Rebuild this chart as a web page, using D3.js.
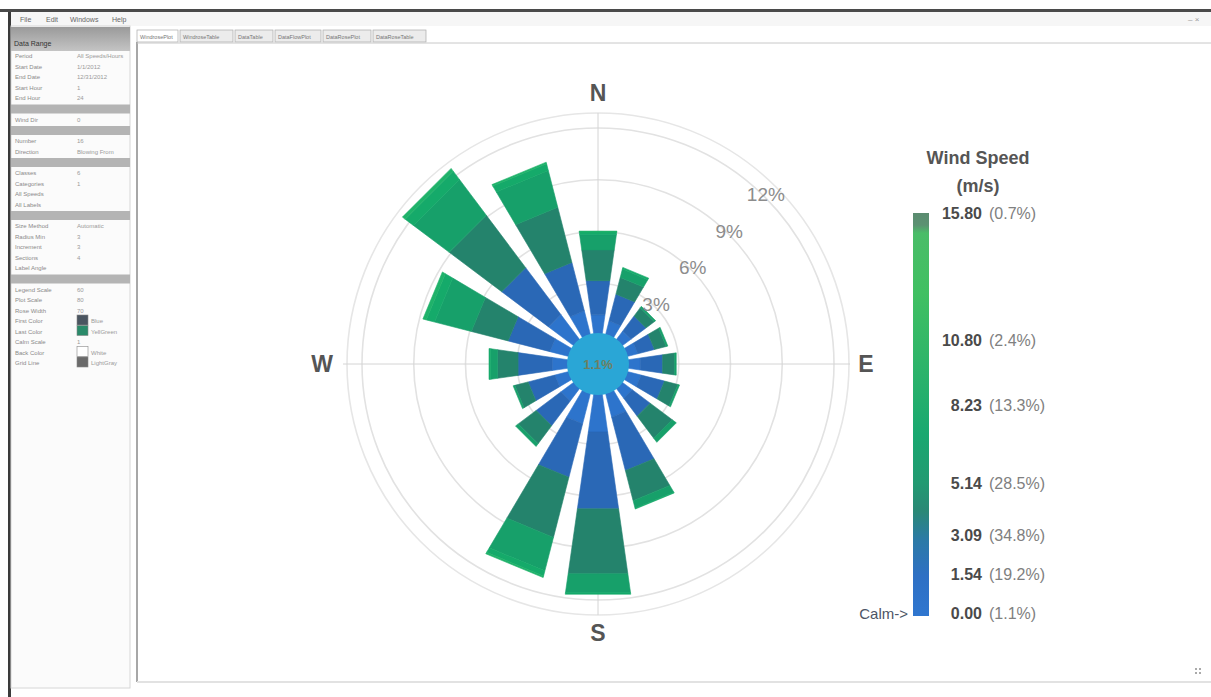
<!DOCTYPE html>
<html>
<head>
<meta charset="utf-8">
<script src="https://cdn.jsdelivr.net/npm/d3@7"></script>
<style>
    body { margin: 0; background: #fff; }
    svg { display: block; font-family: "Liberation Sans", Arial, sans-serif; }
</style>
</head>
<body>
<div id="chart"></div>
<script>
// windrose.js - wind rose (WRPLOT style) drawn with D3

// ---- data ----
const directions = ['N', 'NNE', 'NE', 'ENE', 'E', 'ESE', 'SE', 'SSE', 'S', 'SSW', 'SW', 'WSW', 'W', 'WNW', 'NW', 'NNW'];
const speedKeys = ['c1', 'c2', 'c3', 'c4', 'c5', 'c6'];
// frequency (%) per direction, one array per speed class
const class1 = [1.2, 0.9, 0.7, 0.7, 0.8, 0.9, 0.8, 1.5, 2.3, 1.9, 1.0, 0.9, 1.0, 1.2, 1.9, 1.5];
const class2 = [2.0, 1.6, 1.1, 1.0, 1.3, 1.4, 1.3, 3.2, 4.5, 3.2, 1.8, 1.6, 2.0, 2.5, 3.4, 2.9];
const class3 = [1.8, 1.0, 0.6, 0.7, 0.7, 0.8, 1.6, 1.8, 3.8, 3.6, 1.3, 0.8, 1.2, 2.2, 3.8, 3.3];
const class4 = [0.9, 0.5, 0.1, 0.1, 0.1, 0.1, 0.3, 0.45, 1.1, 2.0, 0.2, 0.1, 0.4, 2.2, 2.6, 2.2];
const class5 = [0.15, 0.1, 0, 0, 0, 0, 0, 0.05, 0.1, 0.3, 0, 0, 0.1, 0.5, 0.6, 0.4];
const class6 = [0.05, 0, 0, 0, 0, 0, 0, 0, 0, 0.1, 0, 0, 0, 0.2, 0.2, 0.1];
const calmPercent = 1.1;
const ringTicks = [3, 6, 9, 12];
const compassLabels = ['N', 'E', 'S', 'W'];
const legendValues = [0, 1.54, 3.09, 5.14, 8.23, 10.80, 15.80];
const legendPercents = [1.1, 19.2, 34.8, 28.5, 13.3, 2.4, 0.7];

// ui chrome text (blurry in original)
const menuItems = ['File', 'Edit', 'Windows', 'Help'];
const tabNames = ['WindrosePlot', 'WindroseTable', 'DataTable', 'DataFlowPlot', 'DataRosePlot', 'DataRoseTable'];
const propRows = [
    ['Period', 'All Speeds/Hours'], ['Start Date', '1/1/2012'], ['End Date', '12/31/2012'], ['Start Hour', '1'], ['End Hour', '24'],
    null, ['Wind Dir', '0'], null, ['Number', '16'], ['Direction', 'Blowing From'], null,
    ['Classes', '6'], ['Categories', '1'], ['All Speeds', ''], ['All Labels', ''], null,
    ['Size Method', 'Automatic'], ['Radius Min', '3'], ['Increment', '3'], ['Sections', '4'], ['Label Angle', ''], null,
    ['Legend Scale', '60'], ['Plot Scale', '80'], ['Rose Width', '70'], ['First Color', 'Blue'], ['Last Color', 'YellGreen'],
    ['Calm Scale', '1'], ['Back Color', 'White'], ['Grid Line', 'LightGray']
];

const classColors = ['#2d74cc', '#2a68b6', '#24836c', '#17a06a', '#15aa6a', '#1fb26a'];

const W = 1211, H = 697;
const svg = d3.select('#chart').append('svg').attr('width', W).attr('height', H);
svg.append('rect').attr('width', W).attr('height', H).attr('fill', '#fff');

function drawChrome() {
    // title bar edge + menu
    svg.append('rect').attr('x', 0).attr('y', 9).attr('width', W).attr('height', 3).attr('fill', '#4a4a4a');
    svg.append('rect').attr('x', 10).attr('y', 12).attr('width', W - 10).attr('height', 14).attr('fill', '#f6f6f6');
    const mx = [20, 46, 70, 112];
    svg.selectAll('text.menu').data(menuItems).enter().append('text')
        .attr('class', 'menu').attr('x', (d, i) => mx[i]).attr('y', 22)
        .attr('font-size', '7px').attr('fill', '#666').text((d) => d);
    svg.append('text').attr('x', 1188).attr('y', 22).attr('font-size', '8px').attr('fill', '#999').text('– ×');

    // left property panel
    svg.append('rect').attr('x', 8).attr('y', 12).attr('width', 3).attr('height', H - 12).attr('fill', '#3a3a3a');
    svg.append('rect').attr('x', 11).attr('y', 26).attr('width', 119).attr('height', 662)
        .attr('fill', '#fbfbfb').attr('stroke', '#d6d6d6');
    const head = svg.append('linearGradient').attr('id', 'hd').attr('x1', 0).attr('y1', 0).attr('x2', 0).attr('y2', 1);
    head.append('stop').attr('offset', 0).attr('stop-color', '#9a9a9a');
    head.append('stop').attr('offset', 1).attr('stop-color', '#c4c4c4');
    svg.append('rect').attr('x', 11).attr('y', 27).attr('width', 119).attr('height', 24).attr('fill', 'url(#hd)');
    svg.append('text').attr('x', 14).attr('y', 46).attr('font-size', '7px').attr('fill', '#333').text('Data Range');

    let y = 58;
    const swatches = { 'First Color': '#4a5560', 'Last Color': '#2a8a6a', 'Back Color': '#ffffff', 'Grid Line': '#6a6a6a' };
    propRows.forEach((row) => {
        if (!row) {
            svg.append('rect').attr('x', 11).attr('y', y - 6).attr('width', 119).attr('height', 9).attr('fill', '#b4b4b4');
            y += 11;
            return;
        }
        svg.append('text').attr('x', 15).attr('y', y).attr('font-size', '6px').attr('fill', '#8a8a8a').text(row[0]);
        const sw = swatches[row[0]];
        if (sw) {
            svg.append('rect').attr('x', 77).attr('y', y - 8).attr('width', 11).attr('height', 10)
                .attr('fill', sw).attr('stroke', '#888').attr('stroke-width', 0.6);
        }
        svg.append('text').attr('x', sw ? 91 : 77).attr('y', y).attr('font-size', '6px').attr('fill', '#9a9a9a').text(row[1]);
        y += 10.5;
    });

    // tabs
    const tx = [137, 180, 235, 275, 323, 373, 428];
    tabNames.forEach((t, i) => {
        svg.append('rect').attr('x', tx[i]).attr('y', 30).attr('width', tx[i + 1] - tx[i] - 2).attr('height', 12)
            .attr('fill', i === 0 ? '#fff' : '#ececec').attr('stroke', '#aaa').attr('stroke-width', 0.7);
        svg.append('text').attr('x', tx[i] + 3).attr('y', 39).attr('font-size', '5.5px').attr('fill', '#777').text(t);
    });

    // plot area frame
    svg.append('line').attr('x1', 137).attr('x2', 137).attr('y1', 42).attr('y2', 682).attr('stroke', '#8a8a8a').attr('stroke-width', 1.5);
    svg.append('line').attr('x1', 137).attr('x2', W).attr('y1', 43).attr('y2', 43).attr('stroke', '#c8c8c8');
    svg.append('line').attr('x1', 137).attr('x2', W).attr('y1', 682).attr('y2', 682).attr('stroke', '#e2e2e2').attr('stroke-width', 2);
    [[1195, 668], [1199, 668], [1195, 672], [1199, 672]].forEach(([gx, gy]) => {
        svg.append('rect').attr('x', gx).attr('y', gy).attr('width', 2).attr('height', 2).attr('fill', '#aaa');
    });
}

function drawRose() {
    const cx = 598, cy = 364;
    const g = svg.append('g').attr('transform', `translate(${cx},${cy})`);
    const r = d3.scaleLinear().domain([0, 12]).range([29, 236]);
    const angle = d3.scaleLinear().domain([0, directions.length]).range([0, 2 * Math.PI]);
    const half = angle(0.36);

    // grid rings + axes
    g.selectAll('circle.ring').data(ringTicks).enter().append('circle')
        .attr('class', 'ring').attr('r', (d) => r(d))
        .attr('fill', 'none').attr('stroke', '#e2e2e2').attr('stroke-width', 1.6);
    g.append('circle').attr('r', 251).attr('fill', 'none').attr('stroke', '#e6e6e6').attr('stroke-width', 1.6);
    g.append('line').attr('x1', -255).attr('x2', 252).attr('stroke', '#d4d4d4');
    g.append('line').attr('y1', -251).attr('y2', 251).attr('stroke', '#d4d4d4');

    // stacked petals
    const rows = directions.map((d, i) => ({
        dir: d,
        c1: class1[i], c2: class2[i], c3: class3[i], c4: class4[i], c5: class5[i], c6: class6[i]
    }));
    const series = d3.stack().keys(speedKeys)(rows);
    const petal = d3.lineRadial().angle((d) => d[0]).radius((d) => d[1]).curve(d3.curveLinearClosed);

    series.forEach((s, k) => {
        g.selectAll(`path.s${k}`).data(s.filter((d) => d[1] - d[0] > 0)).enter().append('path')
            .attr('class', `s${k}`)
            .attr('fill', classColors[k])
            .attr('stroke', classColors[k])
            .attr('stroke-width', 0.6)
            .attr('stroke-linejoin', 'miter')
            .attr('d', (d) => {
                const a = angle(directions.indexOf(d.data.dir));
                return petal([[a - half, r(d[0])], [a + half, r(d[0])], [a + half, r(d[1])], [a - half, r(d[1])]]);
            });
    });

    // calm circle
    g.append('circle').attr('r', 31).attr('fill', '#2aa6d6');
    g.append('text').attr('y', 5).attr('text-anchor', 'middle').attr('font-size', '13px')
        .attr('font-weight', 'bold').attr('fill', '#6f7f62').text(`${calmPercent.toFixed(1)}%`);

    // ring labels along 45 deg
    g.selectAll('text.tick').data(ringTicks).enter().append('text')
        .attr('class', 'tick')
        .attr('x', (d) => r(d) * Math.SQRT1_2 + 1)
        .attr('y', (d) => -r(d) * Math.SQRT1_2 + 4)
        .attr('text-anchor', 'middle').attr('font-size', '19px').attr('fill', '#8c8c8c')
        .text((d) => `${d}%`);

    // compass letters
    const pos = { N: [0, -271], E: [268, 0], S: [0, 269], W: [-276, 0] };
    g.selectAll('text.compass').data(compassLabels).enter().append('text')
        .attr('class', 'compass')
        .attr('x', (d) => pos[d][0]).attr('y', (d) => pos[d][1] + 8)
        .attr('text-anchor', 'middle').attr('font-size', '23px').attr('font-weight', 'bold')
        .attr('fill', '#555').text((d) => d);
}

function drawLegend() {
    const y = d3.scaleLinear().domain([0, 15.8]).range([613, 213]);
    const grad = svg.append('linearGradient').attr('id', 'wsGrad')
        .attr('x1', 0).attr('y1', 1).attr('x2', 0).attr('y2', 0);
    [[0, '#2f76cf'], [0.1, '#2e70c4'], [0.19, '#2b7aa6'], [0.26, '#2a8876'], [0.33, '#229a72'],
     [0.45, '#19a870'], [0.62, '#2db46a'], [0.8, '#40c062'], [0.95, '#4abd68'], [0.97, '#5b9272'], [1, '#5b8c70']]
        .forEach(([o, c]) => grad.append('stop').attr('offset', o).attr('stop-color', c));

    svg.append('rect').attr('x', 913).attr('y', y(15.8)).attr('width', 16)
        .attr('height', y(0) - y(15.8) + 3).attr('fill', 'url(#wsGrad)');

    svg.append('text').attr('x', 978).attr('y', 164).attr('text-anchor', 'middle')
        .attr('font-size', '18px').attr('font-weight', 'bold').attr('fill', '#555').text('Wind Speed');
    svg.append('text').attr('x', 978).attr('y', 192).attr('text-anchor', 'middle')
        .attr('font-size', '18px').attr('font-weight', 'bold').attr('fill', '#555').text('(m/s)');

    const lab = svg.selectAll('g.lv').data(legendValues).enter().append('g')
        .attr('class', 'lv').attr('transform', (d) => `translate(0,${y(d) + 6})`);
    lab.append('text').attr('x', 982).attr('text-anchor', 'end')
        .attr('font-size', '16px').attr('font-weight', 'bold').attr('fill', '#4a4a4a')
        .text((d) => d.toFixed(2));
    lab.append('text').attr('x', 989)
        .attr('font-size', '16px').attr('fill', '#808080')
        .text((d, i) => `(${legendPercents[i].toFixed(1)}%)`);

    svg.append('text').attr('x', 908).attr('y', y(0) + 6).attr('text-anchor', 'end')
        .attr('font-size', '15px').attr('fill', '#4d5566').text('Calm->');
}

drawChrome();
drawRose();
drawLegend();
</script>
</body>
</html>
